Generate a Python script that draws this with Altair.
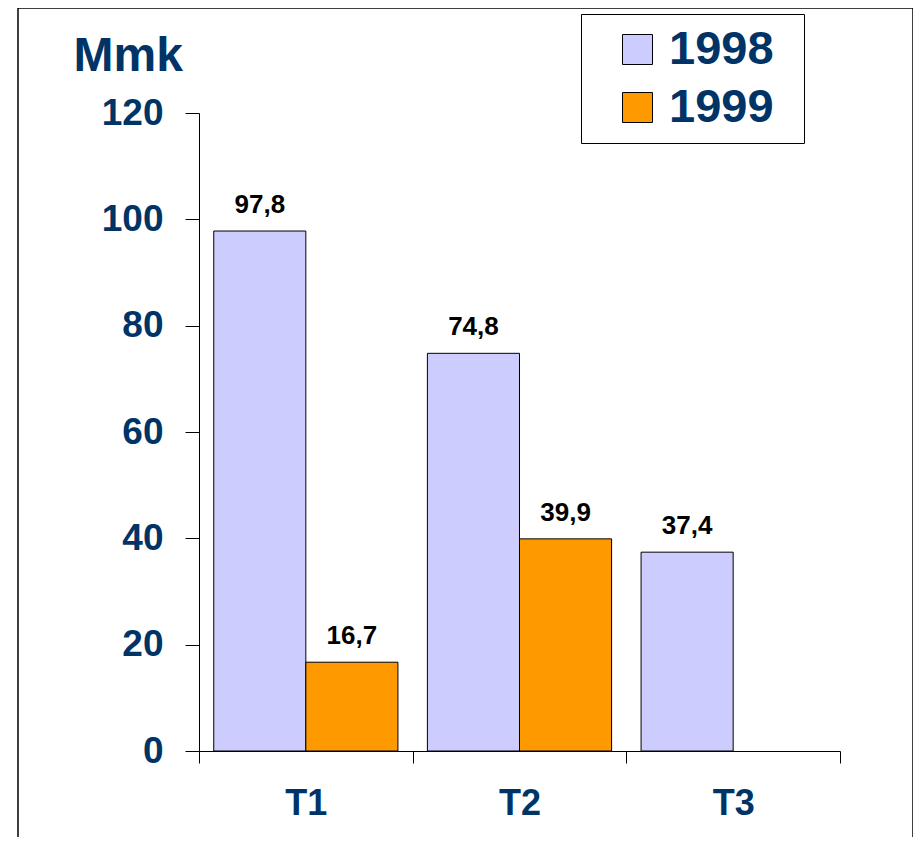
import altair as alt
import pandas as pd

categories = ["T1", "T1", "T2", "T2", "T3"]
years = ["1998", "1999", "1998", "1999", "1998"]
values = [97.8, 16.7, 74.8, 39.9, 37.4]
series = ["1998", "1999"]
colors = ["#CCCCFF", "#FF9900"]
y_ticks = [0, 20, 40, 60, 80, 100, 120]

NAVY = "#003366"
FONT = "Liberation Sans"

df = pd.DataFrame({"cat": categories, "year": years, "value": values})

base = alt.Chart(df).encode(
    x=alt.X("cat:N", title=None,
            scale=alt.Scale(paddingInner=0, paddingOuter=0),
            axis=alt.Axis(tickBand="extent", labelAngle=0, labelFontSize=36,
                          labelFontWeight="bold", labelColor=NAVY, labelFont=FONT,
                          tickSize=12, tickColor="black", domainColor="black",
                          labelPadding=23, grid=False)),
    xOffset=alt.XOffset("year:N", scale=alt.Scale(domain=series, paddingOuter=0.16, paddingInner=0)),
    y=alt.Y("value:Q", scale=alt.Scale(domain=[0, 120], nice=False),
            axis=alt.Axis(values=y_ticks, title="Mmk", titleAngle=0, titleX=-126, titleY=-43,
                          titleAlign="left", titleBaseline="alphabetic", titleFontSize=48,
                          titleFontWeight="bold", titleColor=NAVY, titleFont=FONT,
                          labelFontSize=37, labelFontWeight="bold", labelColor=NAVY,
                          labelFont=FONT, tickSize=14, tickColor="black",
                          domainColor="black", labelPadding=22, grid=False)),
)

bars = base.mark_bar(stroke="black", strokeWidth=1).encode(
    color=alt.Color("year:N", scale=alt.Scale(domain=series, range=colors),
                    legend=alt.Legend(orient="none", legendX=382, legendY=-99,
                                      title="\u00a0", titleOrient="right", titlePadding=18,
                                      titleFontSize=20,
                                      symbolType="square", symbolSize=900,
                                      symbolStrokeColor="black", symbolStrokeWidth=1,
                                      symbolOffset=21, labelOffset=8, labelFontSize=47,
                                      labelFont=FONT, labelFontWeight="bold",
                                      labelColor=NAVY, padding=12, rowPadding=10,
                                      strokeColor="black", fillColor="white"))
)

labels = base.mark_text(fontSize=26, fontWeight="bold", font=FONT, baseline="alphabetic",
                        dy=-18, color="black").transform_calculate(
    lbl="replace(format(datum.value, '.1f'), '.', ',')"
).encode(text="lbl:N")

frame = alt.Chart(pd.DataFrame({"k": [0]})).mark_rect(
    fillOpacity=0, stroke="black", strokeWidth=1.5
).encode(x=alt.value(-181), x2=alt.value(714), y=alt.value(-105), y2=alt.value(800))

chart = alt.layer(frame, bars, labels).properties(
    width=641, height=638,
    autosize=alt.AutoSizeParams(type="none"),
    padding={"left": 191, "top": 105, "right": 73, "bottom": 86},
    background="white",
).configure_view(stroke=None)

chart.save("out.html", embed_options={"renderer": "svg", "actions": False})
